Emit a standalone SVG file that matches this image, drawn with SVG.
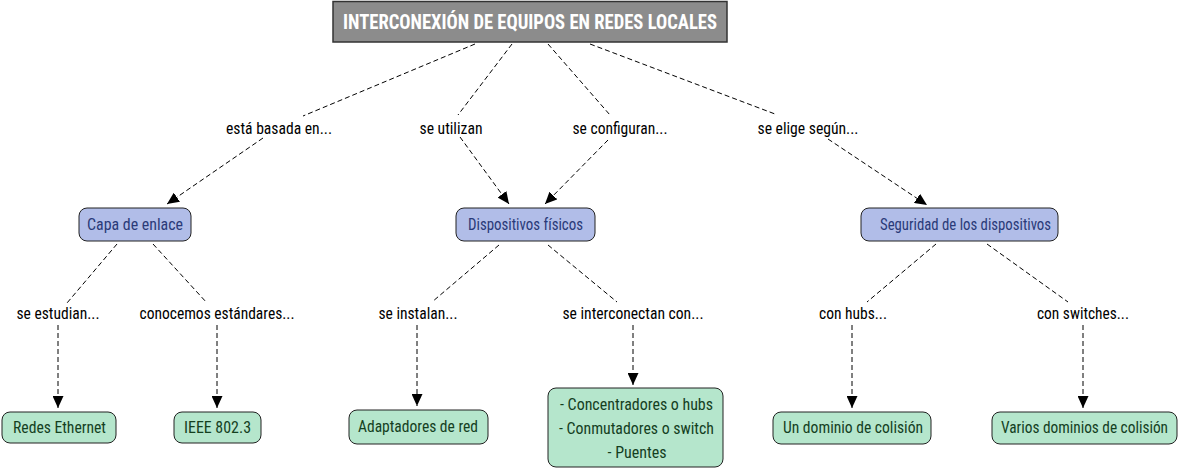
<svg xmlns="http://www.w3.org/2000/svg" width="1181" height="470" viewBox="0 0 1181 470">
<style>
text{font-family:"Liberation Sans Narrow","Roboto Condensed","Liberation Sans",sans-serif;font-size:16px;text-anchor:middle}
.lbl{fill:#000}
.title rect{fill:#8c8c8c;stroke:#333;stroke-width:1.5}
.title text{fill:#fff;font-weight:bold;font-size:20px}
.blue rect{fill:#b1bde8;stroke:#222;stroke-width:1}
.blue text{fill:#2a3a78}
.green rect{fill:#b5e6cc;stroke:#222;stroke-width:1}
.green text{fill:#14401f}
#connectors line{stroke:#000;stroke-width:1;stroke-dasharray:5 3;fill:none}
#connectors line.arr{marker-end:url(#ah)}
</style>
<defs>
<marker id="ah" markerUnits="userSpaceOnUse" markerWidth="12" markerHeight="11" refX="12" refY="5.5" orient="auto">
<path d="M0,0 L12,5.5 L0,11 Z" fill="#000"/>
</marker>
</defs>
<rect width="1181" height="470" fill="#fff"/>
<g id="connectors">
<line x1="475" y1="44" x2="303" y2="116"/>
<line class="arr" x1="263" y1="138" x2="167" y2="204"/>
<line x1="512" y1="44" x2="458" y2="115"/>
<line class="arr" x1="460" y1="137" x2="509" y2="204"/>
<line x1="548" y1="44" x2="610" y2="115"/>
<line class="arr" x1="608" y1="140" x2="545" y2="204"/>
<line x1="590" y1="44" x2="775" y2="114"/>
<line class="arr" x1="828" y1="139" x2="927" y2="205"/>
<line x1="117" y1="244" x2="67" y2="303"/>
<line class="arr" x1="58" y1="325" x2="58" y2="408"/>
<line x1="153" y1="244" x2="207" y2="303"/>
<line class="arr" x1="217" y1="325" x2="217" y2="408"/>
<line x1="499" y1="245" x2="432" y2="302"/>
<line class="arr" x1="417" y1="325" x2="417" y2="406"/>
<line x1="548" y1="245" x2="617" y2="302"/>
<line class="arr" x1="633" y1="325" x2="633" y2="385"/>
<line x1="936" y1="244" x2="867" y2="302"/>
<line class="arr" x1="852" y1="325" x2="852" y2="408"/>
<line x1="987" y1="244" x2="1068" y2="302"/>
<line class="arr" x1="1083" y1="325" x2="1083" y2="408"/>
</g>
<g id="labels">
<text class="lbl" x="279" y="134" textLength="106" lengthAdjust="spacingAndGlyphs">está basada en...</text>
<text class="lbl" x="451" y="134" textLength="63" lengthAdjust="spacingAndGlyphs">se utilizan</text>
<text class="lbl" x="620" y="134" textLength="95" lengthAdjust="spacingAndGlyphs">se configuran...</text>
<text class="lbl" x="808" y="134" textLength="101" lengthAdjust="spacingAndGlyphs">se elige según...</text>
<text class="lbl" x="58" y="319" textLength="83" lengthAdjust="spacingAndGlyphs">se estudian...</text>
<text class="lbl" x="217" y="319" textLength="155" lengthAdjust="spacingAndGlyphs">conocemos estándares...</text>
<text class="lbl" x="418" y="319" textLength="79" lengthAdjust="spacingAndGlyphs">se instalan...</text>
<text class="lbl" x="633" y="319" textLength="141" lengthAdjust="spacingAndGlyphs">se interconectan con...</text>
<text class="lbl" x="853" y="319" textLength="68" lengthAdjust="spacingAndGlyphs">con hubs...</text>
<text class="lbl" x="1083" y="319" textLength="92" lengthAdjust="spacingAndGlyphs">con switches...</text>
</g>
<g id="n-title" class="title">
<rect x="333" y="1.5" width="394" height="40.5"/>
<text x="530" y="29" textLength="374" lengthAdjust="spacingAndGlyphs">INTERCONEXIÓN DE EQUIPOS EN REDES LOCALES</text>
</g>
<g id="n-capa" class="blue">
<rect x="79" y="208" width="112" height="33" rx="8"/>
<text x="135" y="230" textLength="96" lengthAdjust="spacingAndGlyphs">Capa de enlace</text>
</g>
<g id="n-disp" class="blue">
<rect x="456" y="208" width="139" height="33" rx="8"/>
<text x="525.5" y="230" textLength="115" lengthAdjust="spacingAndGlyphs">Dispositivos físicos</text>
</g>
<g id="n-seg" class="blue">
<rect x="861" y="208" width="197" height="33" rx="8"/>
<text x="965.5" y="230" textLength="171" lengthAdjust="spacingAndGlyphs">Seguridad de los dispositivos</text>
</g>
<g id="n-redes" class="green">
<rect x="2" y="412" width="114" height="31" rx="8"/>
<text x="59.5" y="433" textLength="93" lengthAdjust="spacingAndGlyphs">Redes Ethernet</text>
</g>
<g id="n-ieee" class="green">
<rect x="174" y="412" width="87" height="31" rx="8"/>
<text x="217.5" y="433" textLength="67" lengthAdjust="spacingAndGlyphs">IEEE 802.3</text>
</g>
<g id="n-adapt" class="green">
<rect x="349" y="410" width="139" height="34" rx="8"/>
<text x="418" y="432" textLength="120" lengthAdjust="spacingAndGlyphs">Adaptadores de red</text>
</g>
<g id="n-inter" class="green">
<rect x="548" y="388" width="175" height="79" rx="8"/>
<text x="636.5" y="410" textLength="153" lengthAdjust="spacingAndGlyphs">- Concentradores o hubs</text>
<text x="636.5" y="434" textLength="155" lengthAdjust="spacingAndGlyphs">- Conmutadores o switch</text>
<text x="637" y="458" textLength="59" lengthAdjust="spacingAndGlyphs">- Puentes</text>
</g>
<g id="n-un" class="green">
<rect x="773" y="412" width="158" height="32" rx="8"/>
<text x="853" y="433" textLength="140" lengthAdjust="spacingAndGlyphs">Un dominio de colisión</text>
</g>
<g id="n-varios" class="green">
<rect x="992" y="412" width="185" height="32" rx="8"/>
<text x="1084.5" y="433" textLength="167" lengthAdjust="spacingAndGlyphs">Varios dominios de colisión</text>
</g>
</svg>
